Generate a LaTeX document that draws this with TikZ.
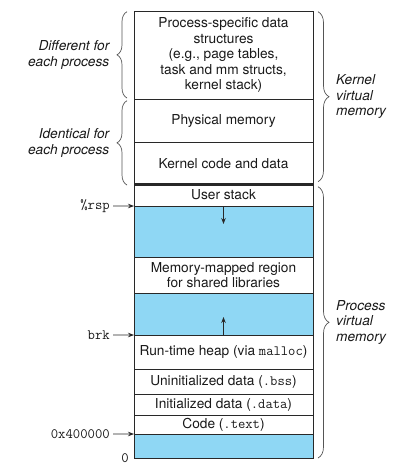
\documentclass[tikz,border=0pt]{standalone}
\usepackage{fontspec}
\setmainfont{TeX Gyre Heros}
\usetikzlibrary{arrows.meta,decorations.pathreplacing,calc}
\definecolor{memblue}{RGB}{143,215,244}
\definecolor{edgec}{RGB}{40,40,40}
\definecolor{bracec}{RGB}{85,85,85}
\newcommand{\monotxt}[1]{{\fontsize{14.2}{15.5}\selectfont\ttfamily #1}}
\begin{document}
\begin{tikzpicture}[x=1pt,y=-1pt,
  region/.style={draw=edgec, line width=0.9pt, minimum width=179pt, inner sep=0pt, outer sep=0pt,
    anchor=north west, align=center, font=\fontsize{13.7}{15.5}\selectfont, text=black!90},
  bluebox/.style={region, fill=memblue},
  lbl/.style={font=\fontsize{14.3}{16}\selectfont\ttfamily, text=black!90, inner sep=0pt, anchor=east},
  side/.style={font=\fontsize{13.7}{15.5}\selectfont\itshape, text=black!90, inner sep=0pt},
  ptr/.style={-{Stealth[length=6pt,width=4.5pt]}, line width=0.8pt, draw=edgec, shorten <=3pt},
  growarrow/.style={-{Stealth[length=6pt,width=4.5pt]}, line width=0.8pt, draw=edgec},
  lbrace/.style={decorate, decoration={brace, amplitude=10pt}, draw=bracec, line width=0.7pt},
  rbrace/.style={decorate, decoration={brace, amplitude=11pt}, draw=bracec, line width=0.7pt}]
\useasboundingbox (0,0) rectangle (410,475);

\node[region, minimum height=88.5pt] (pds) at (134,11) {Process-specific data\\structures\\(e.g., page tables,\\task and mm structs,\\kernel stack)};
\node[region, minimum height=43.2pt] (phys) at (pds.south west) {Physical memory};
\node[region, minimum height=41.3pt] (kern) at (phys.south west) {Kernel code and data};
\node[region, minimum height=22pt] (ustack) at (kern.south west) {User stack};
\node[bluebox, minimum height=51pt] (gap1) at (ustack.south west) {};
\node[region, minimum height=36pt] (mmap) at (gap1.south west) {Memory-mapped region\\for shared libraries};
\node[bluebox, minimum height=42pt] (gap2) at (mmap.south west) {};
\node[region, minimum height=34pt] (heap) at (gap2.south west) {Run-time heap (via \monotxt{malloc})};
\node[region, minimum height=25pt] (bss) at (heap.south west) {Uninitialized data (\monotxt{.bss})};
\node[region, minimum height=21pt] (data) at (bss.south west) {Initialized data (\monotxt{.data})};
\node[region, minimum height=19pt] (text) at (data.south west) {Code (\monotxt{.text})};
\node[bluebox, minimum height=24pt] (gap3) at (text.south west) {};

\draw[edgec, line width=3pt] (kern.south west) -- (kern.south east);

% growth arrows
\coordinate (downend) at ($(gap1.north)+(0,18)$);
\coordinate (upend) at ($(gap2.south)+(0,-18)$);
\draw[growarrow] (gap1.north) -- (downend);
\draw[growarrow] (gap2.south) -- (upend);

% pointer labels
\node[lbl] (rsp) at (110,206) {\%rsp};
\node[lbl] (brk) at (110,335) {brk};
\node[lbl] (base) at (110,434) {0x400000};
\node[lbl] (zero) at (129,458) {0};
\draw[ptr] (rsp.east) -- (gap1.north west);
\draw[ptr] (brk.east) -- (heap.north west);
\draw[ptr] (base.east) -- (gap3.north west);

% braces
\coordinate (l1t) at ($(pds.north west)+(-7,0.7)$);
\coordinate (l1b) at ($(pds.south west)+(-7,-1.5)$);
\coordinate (l2t) at ($(phys.north west)+(-7,1.2)$);
\coordinate (l2b) at ($(kern.south west)+(-7,1)$);
\coordinate (r1t) at ($(pds.north east)+(5,0.7)$);
\coordinate (r1b) at ($(kern.south east)+(5,-2.3)$);
\coordinate (r2t) at ($(ustack.north east)+(5,2.7)$);
\coordinate (r2b) at ($(gap3.south east)+(5,0)$);
\draw[lbrace] (l1b) -- (l1t);
\draw[lbrace] (l2b) -- (l2t);
\draw[rbrace] (r1t) -- (r1b);
\draw[rbrace] (r2t) -- (r2b);

\node[side, anchor=east, align=right] (diff) at ($($(l1t)!0.5!(l1b)$)+(-17.5,0)$) {Different for\\each process};
\node[side, anchor=east, align=right] (ident) at ($($(l2t)!0.5!(l2b)$)+(-17.5,0)$) {Identical for\\each process};
\node[side, anchor=west, align=left] (kvm) at ($($(r1t)!0.5!(r1b)$)+(18,0)$) {Kernel\\virtual\\memory};
\node[side, anchor=west, align=left] (pvm) at ($($(r2t)!0.5!(r2b)$)+(18,0)$) {Process\\virtual\\memory};
\end{tikzpicture}
\end{document}
